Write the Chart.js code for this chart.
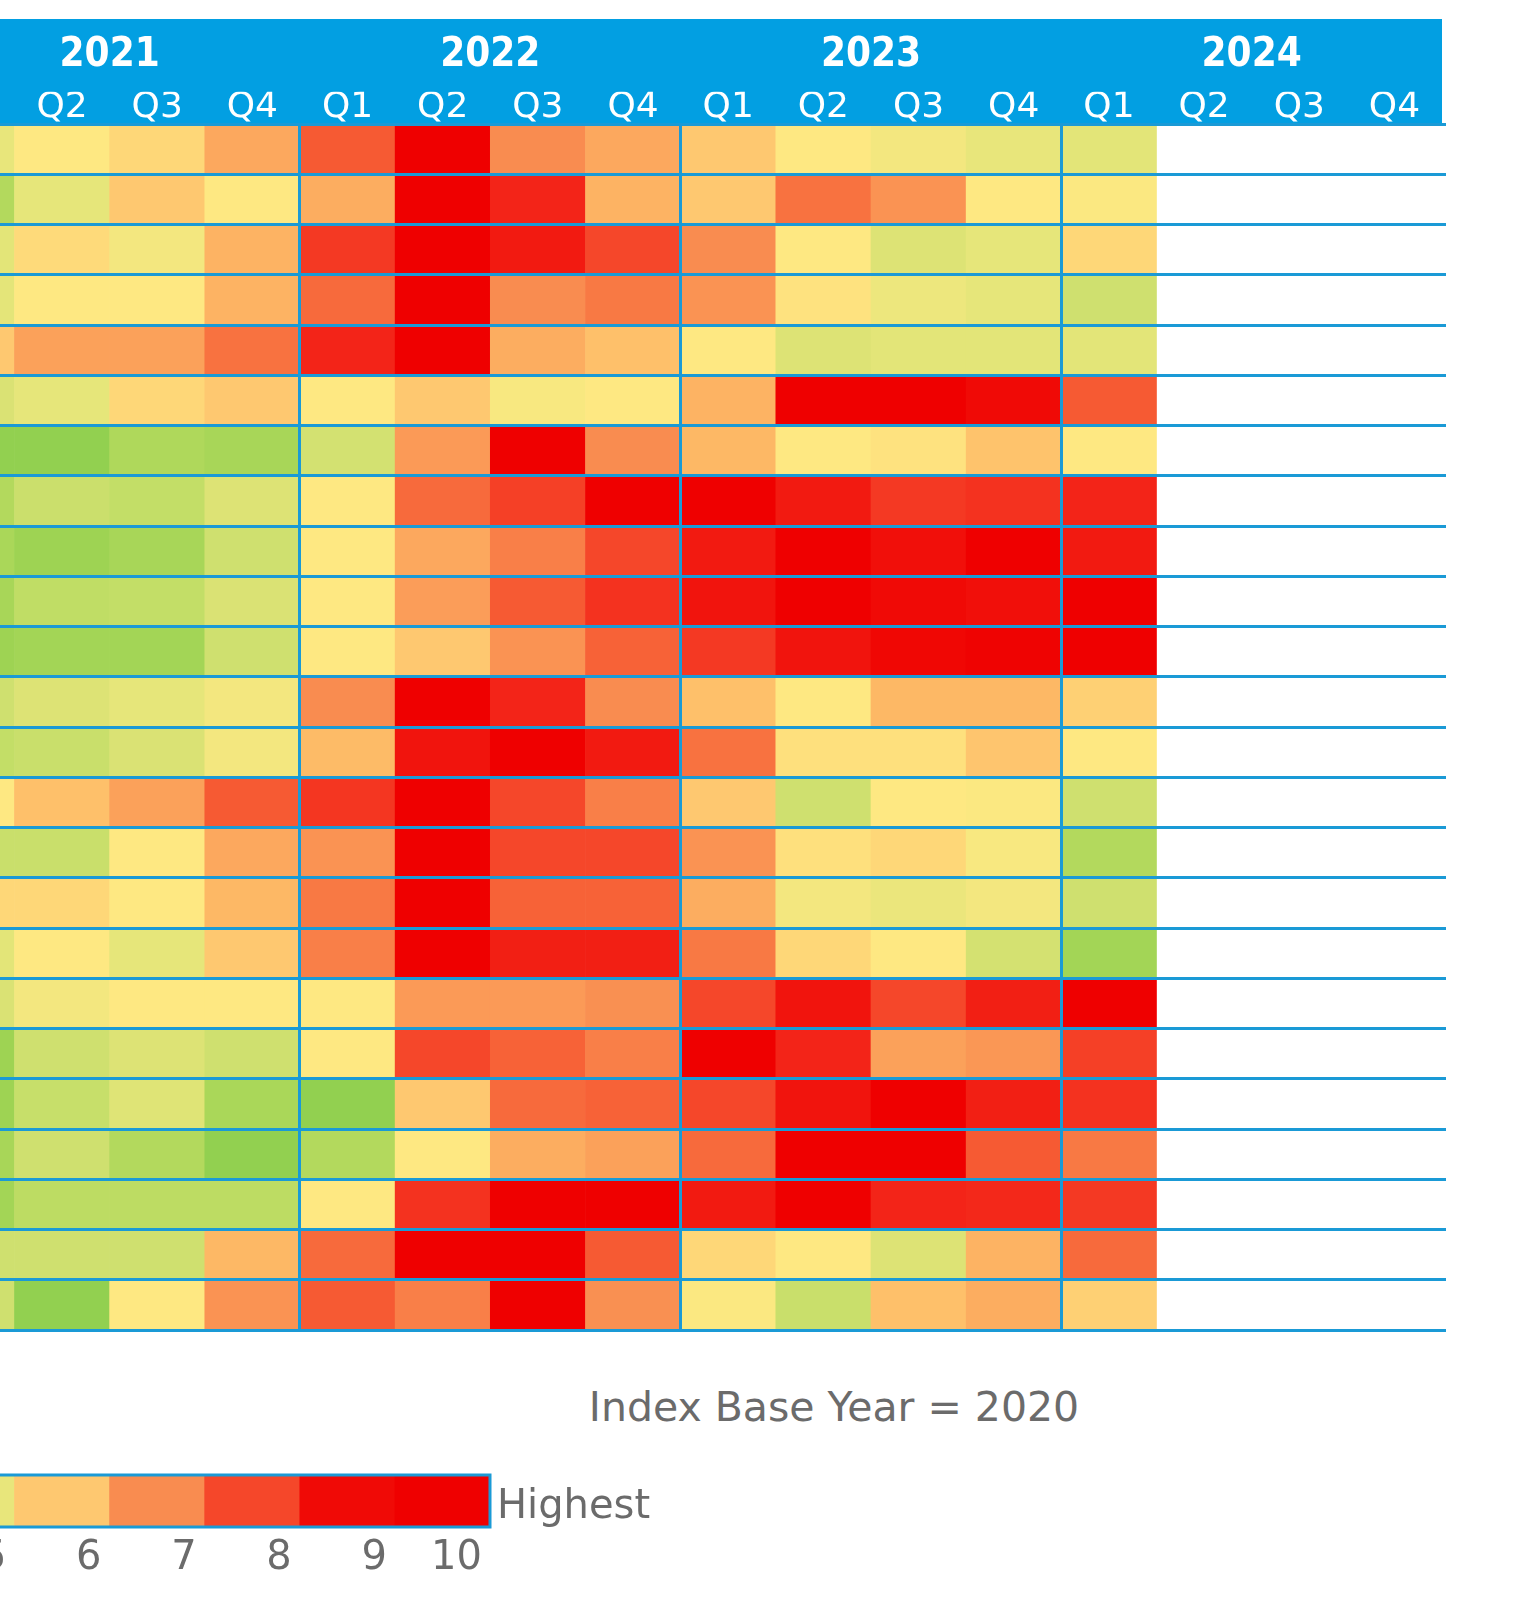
<!DOCTYPE html>
<html>
<head>
<meta charset="utf-8">
<script src="https://cdn.jsdelivr.net/npm/chart.js@4.4.1/dist/chart.umd.min.js"></script>
<style>
  html, body { margin: 0; padding: 0; background: #fff; }
  body { width: 1520px; height: 1608px; position: relative; overflow: hidden;
         font-family: "DejaVu Sans", Verdana, sans-serif; }
  canvas { display: block; }
  #heatWrap { position: absolute; left: -90px; top: 0; }
  #keyWrap { position: absolute; left: -470px; top: 1465px; }
  .note { position: absolute; color: #6b6b6b; font-size: 40px; line-height: 48px; white-space: nowrap; }
</style>
</head>
<body>
<div id="heatWrap"><canvas id="heat" width="1540" height="1345"></canvas></div>
<div id="keyWrap"><canvas id="key" width="970" height="120"></canvas></div>
<div class="note" style="left:534px; width:600px; text-align:center; top:1383px; font-size:41px;">Index Base Year = 2020</div>
<div class="note" style="left:497px; top:1480px;">Highest</div>

<script>
/* ---------------- DATA ---------------- */

const years = ["2021", "2022", "2023", "2024"];
const quarters = ["Q1", "Q2", "Q3", "Q4"];

// index values per row (24 rows), one entry per quarter
const y2021 = [
  [5.0, 5.4, 5.7, 6.6], [2.5, 4.9, 6.0, 5.4], [4.7, 5.65, 5.2, 6.4], [4.8, 5.4, 5.4, 6.4],
  [6.0, 6.7, 6.7, 7.4], [4.2, 4.9, 5.7, 6.0], [1.0, 1.0, 2.3, 2.0], [2.5, 3.4, 3.0, 4.4],
  [2.1, 1.6, 2.0, 3.6], [2.0, 2.9, 3.0, 4.2], [1.6, 1.8, 1.8, 3.6], [3.6, 4.4, 4.9, 5.2],
  [3.0, 3.3, 4.2, 5.2], [5.4, 6.15, 6.7, 7.7], [3.3, 3.3, 5.4, 6.6], [5.7, 5.7, 5.4, 6.3],
  [4.7, 5.4, 4.9, 6.0], [4.2, 5.2, 5.4, 5.4], [1.6, 3.6, 4.4, 3.6], [1.6, 3.2, 4.5, 2.1],
  [2.0, 3.6, 2.5, 1.0], [1.8, 2.8, 2.8, 2.8], [3.6, 3.6, 3.6, 6.3], [3.6, 1.0, 5.4, 6.9]
];
const y2022 = [
  [7.7, 9.5, 7.0, 6.6], [6.5, 9.5, 8.5, 6.4], [8.2, 9.5, 8.7, 8.0], [7.5, 9.5, 7.0, 7.3],
  [8.5, 9.5, 6.5, 6.15], [5.4, 6.0, 5.3, 5.4], [3.8, 6.8, 9.5, 7.0], [5.4, 7.5, 8.1, 9.5],
  [5.4, 6.6, 7.2, 8.0], [5.4, 6.75, 7.7, 8.3], [5.4, 6.0, 6.9, 7.6], [7.0, 9.5, 8.5, 7.0],
  [6.25, 8.8, 9.5, 8.7], [8.25, 9.5, 8.0, 7.2], [6.9, 9.5, 8.0, 8.0], [7.3, 9.5, 7.6, 7.6],
  [7.2, 9.5, 8.6, 8.6], [5.4, 6.8, 6.8, 6.95], [5.4, 8.0, 7.6, 7.2], [1.0, 6.0, 7.5, 7.6],
  [2.5, 5.4, 6.5, 6.7], [5.4, 8.3, 9.5, 9.5], [7.5, 9.5, 9.5, 7.7], [7.7, 7.2, 9.5, 6.95]
];
const y2023 = [
  [6.0, 5.4, 5.2, 5.0], [6.0, 7.4, 6.9, 5.4], [7.0, 5.4, 4.4, 4.9], [6.9, 5.5, 5.1, 4.9],
  [5.4, 4.4, 4.7, 4.7], [6.4, 9.5, 9.3, 9.0], [6.3, 5.4, 5.5, 6.1], [9.5, 8.7, 8.2, 8.3],
  [8.7, 9.3, 8.9, 9.3], [8.8, 9.5, 9.0, 8.9], [8.2, 8.8, 9.1, 9.2], [6.15, 5.4, 6.3, 6.3],
  [7.4, 5.55, 5.55, 6.05], [6.0, 3.6, 5.4, 5.35], [6.9, 5.55, 5.7, 5.3], [6.5, 5.2, 5.05, 5.2],
  [7.3, 5.7, 5.4, 3.9], [8.0, 8.8, 8.0, 8.6], [9.5, 8.5, 6.7, 6.85], [8.0, 8.8, 9.5, 8.6],
  [7.5, 9.5, 9.5, 7.7], [8.7, 9.5, 8.5, 8.45], [5.7, 5.4, 4.4, 6.4], [5.35, 3.3, 6.15, 6.5]
];
const y2024 = [
  [4.7], [5.35], [5.7], [3.6], [4.7], [7.7], [5.4], [8.5],
  [8.7], [9.3], [9.4], [5.85], [5.4], [3.6], [2.5], [3.6],
  [1.8], [9.4], [8.1], [8.3], [7.3], [8.2], [7.5], [5.85]
];

const keySteps = [1, 2, 3, 4, 5, 6, 7, 8, 9, 10];

/* ---------------- STYLE ---------------- */

const HEADER_BLUE = "#029fe2";
const LINE_BLUE = "#1a9ad6";
const GREY = "#6b6b6b";
const HEADER_TOP = 19;
const FONT = "'DejaVu Sans', Verdana, sans-serif";
const FONT_COND = "'DejaVu Sans Condensed', 'DejaVu Sans', sans-serif";

const colorStops = [
  [1.0, "#92d050"], [1.6, "#9ed353"], [2.0, "#a8d658"], [2.5, "#b3d95d"], [3.0, "#c3de67"],
  [3.6, "#cfe06f"], [4.4, "#dde375"], [5.0, "#e8e67b"], [5.4, "#fee882"], [5.7, "#fed778"],
  [6.0, "#fec870"], [6.3, "#fdb865"], [6.6, "#fca85e"], [7.0, "#f98c50"], [7.4, "#f87240"],
  [7.7, "#f65a33"], [8.0, "#f5472a"], [8.5, "#f32418"], [9.0, "#f00a06"], [9.3, "#ef0000"]
];

function hexRgb(h) {
  return [1, 3, 5].map(i => parseInt(h.substr(i, 2), 16));
}

function heatColor(v) {
  if (v <= colorStops[0][0]) return colorStops[0][1];
  for (let i = 1; i < colorStops.length; i++) {
    const [v1, c1] = colorStops[i];
    if (v <= v1) {
      const [v0, c0] = colorStops[i - 1];
      const t = (v - v0) / (v1 - v0);
      const a = hexRgb(c0), b = hexRgb(c1);
      const rgb = a.map((x, k) => Math.round(x + (b[k] - x) * t));
      return `rgb(${rgb.join(",")})`;
    }
  }
  return colorStops[colorStops.length - 1][1];
}

/* ---------------- HEATMAP ---------------- */

const labels = years.flatMap(() => quarters);
const rows = y2021.map((r, i) => r.concat(y2022[i], y2023[i], y2024[i]));

const headerBand = {
  id: "headerBand",
  beforeDraw(chart) {
    const { ctx, chartArea } = chart;
    ctx.save();
    ctx.fillStyle = HEADER_BLUE;
    ctx.fillRect(0, HEADER_TOP, chartArea.right, chartArea.top - HEADER_TOP);
    ctx.restore();
  }
};

new Chart(document.getElementById("heat"), {
  type: "bar",
  data: {
    labels: labels,
    datasets: rows.map((vals, i) => ({
      label: "Row " + (i + 1),
      xAxisID: "x",
      yAxisID: "y",
      data: labels.map((_, j) => vals[j] == null ? null : 1),
      backgroundColor: labels.map((_, j) => vals[j] == null ? "rgba(0,0,0,0)" : heatColor(vals[j])),
      borderWidth: 0,
      barPercentage: 1,
      categoryPercentage: 1
    }))
  },
  options: {
    responsive: false,
    animation: false,
    layout: { padding: { left: 9.3, right: 4, top: 19.8, bottom: 15 } },
    scales: {
      x: {
        position: "top",
        stacked: true,
        offset: true,
        border: { display: false },
        grid: {
          offset: true,
          drawTicks: false,
          z: 1,
          lineWidth: 3,
          color: ctx => ctx.index % 4 === 0 ? LINE_BLUE : "rgba(0,0,0,0)"
        },
        ticks: {
          color: "#fff",
          font: { family: FONT, size: 36 },
          padding: -5.5,
          autoSkip: false,
          maxRotation: 0
        }
      },
      years: {
        type: "category",
        axis: "x",
        labels: years,
        position: "top",
        offset: true,
        weight: 1,
        border: { display: false },
        grid: { display: false, drawTicks: false },
        ticks: {
          color: "#fff",
          font: { family: FONT_COND, size: 40, weight: "bold", lineHeight: 1.35 },
          padding: 9,
          maxRotation: 0
        }
      },
      y: {
        position: "right",
        stacked: true,
        reverse: true,
        min: 0,
        max: rows.length,
        border: { display: false },
        grid: {
          z: 1,
          lineWidth: 3,
          color: LINE_BLUE,
          drawTicks: true,
          tickLength: 4
        },
        ticks: { display: false, stepSize: 1 }
      }
    },
    plugins: {
      legend: { display: false },
      tooltip: { enabled: false }
    }
  },
  plugins: [headerBand]
});

/* ---------------- KEY ---------------- */

const frame = {
  id: "frame",
  afterDraw(chart) {
    const { ctx, chartArea: a } = chart;
    ctx.save();
    ctx.strokeStyle = LINE_BLUE;
    ctx.lineWidth = 3;
    ctx.strokeRect(a.left, a.top, a.right - a.left, a.bottom - a.top);
    ctx.restore();
  }
};

new Chart(document.getElementById("key"), {
  type: "bar",
  data: {
    labels: keySteps.map(String),
    datasets: [{
      data: keySteps.map(() => 1),
      backgroundColor: keySteps.map(heatColor),
      borderWidth: 0,
      barPercentage: 1,
      categoryPercentage: 1
    }]
  },
  options: {
    responsive: false,
    animation: false,
    layout: { padding: { left: 8.9, right: 10, top: 10, bottom: 6 } },
    scales: {
      x: {
        border: { display: false },
        grid: { display: false },
        ticks: {
          color: GREY,
          font: { family: FONT, size: 40 },
          padding: 0,
          align: "end",
          labelOffset: 39.5,
          autoSkip: false,
          maxRotation: 0
        }
      },
      y: { display: false, min: 0, max: 1 }
    },
    plugins: {
      legend: { display: false },
      tooltip: { enabled: false }
    }
  },
  plugins: [frame]
});
</script>
</body>
</html>
